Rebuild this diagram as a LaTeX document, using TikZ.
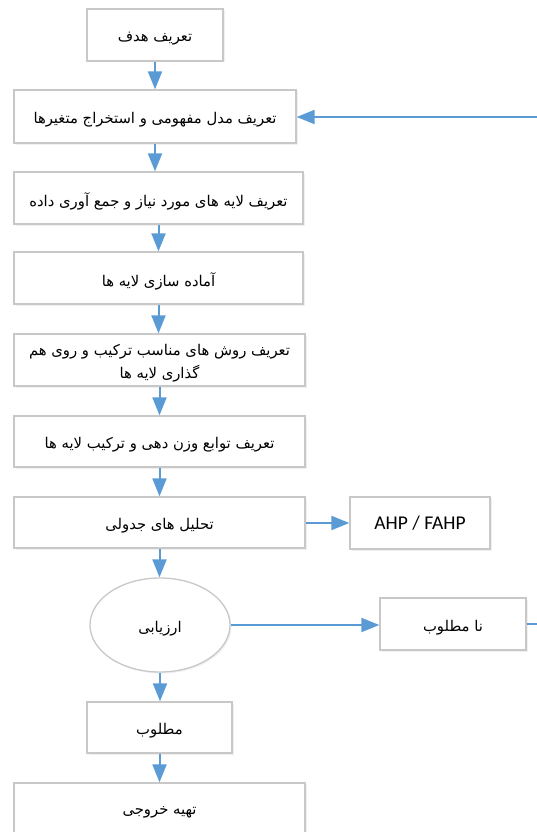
\documentclass[tikz,border=0pt]{standalone}
\usepackage{fontspec}
\setmainfont{DejaVu Sans}
\newfontfamily\arabicfont[Script=Arabic]{DejaVu Sans}
\newfontfamily\latinfont{Carlito}
\TeXXeTstate=1
\newcommand\artx[1]{\raisebox{-3.5pt}[\height][\depth]{\beginR #1\endR}}
\usetikzlibrary{arrows.meta,shapes.geometric,shadows}
\definecolor{arrblue}{HTML}{5B9BD5}
\definecolor{boxgray}{HTML}{C8C8C8}
\tikzset{
  fbox/.style={draw=boxgray, line width=1.3pt, fill=white, rectangle, inner sep=2pt, align=center,
    font=\arabicfont\fontsize{14.8}{23}\selectfont,
    drop shadow={opacity=0.12, shadow xshift=1.5pt, shadow yshift=-1.5pt}},
  fell/.style={draw=boxgray, line width=1.3pt, fill=white, ellipse, inner sep=0pt, align=center,
    font=\arabicfont\fontsize{14.8}{23}\selectfont,
    drop shadow={opacity=0.12, shadow xshift=1.5pt, shadow yshift=-1.5pt}},
  arr/.style={draw=arrblue, line width=2pt, -{Triangle[length=18pt,width=14pt]}},
  ln/.style={draw=arrblue, line width=2pt}
}
\begin{document}
\begin{tikzpicture}[x=1pt,y=-1pt]
\useasboundingbox (0,0) rectangle (537,832);
\clip (0,0) rectangle (537,832);
\node[fbox, minimum width=136pt, minimum height=52pt] (b1) at (155,35) {\artx{تعریف هدف}};
\node[fbox, minimum width=282pt, minimum height=53pt] (b2) at (155,116.5) {\artx{تعریف مدل مفهومی و استخراج متغیرها}};
\node[fbox, minimum width=289pt, minimum height=52pt] (b3) at (158.5,198) {\artx{تعریف لایه های مورد نیاز و جمع آوری داده}};
\node[fbox, minimum width=289pt, minimum height=52pt] (b4) at (158.5,278) {\artx{آماده سازی لایه ها}};
\node[fbox, minimum width=291pt, minimum height=52pt] (b5) at (159.5,360) {\artx{تعریف روش های مناسب ترکیب و روی هم}\\\artx{گذاری لایه ها}};
\node[fbox, minimum width=291pt, minimum height=51pt] (b6) at (159.5,441.5) {\artx{تعریف توابع وزن دهی و ترکیب لایه ها}};
\node[fbox, minimum width=291pt, minimum height=51pt] (b7) at (159.5,522.5) {\artx{تحلیل های جدولی}};
\node[fbox, minimum width=140pt, minimum height=52pt, font=\latinfont\fontsize{19.5}{22}\selectfont] (ahp) at (420,523) {AHP / FAHP};
\node[fell, minimum width=140pt, minimum height=94pt] (ev) at (160,625) {\artx{ارزیابی}};
\node[fbox, minimum width=146pt, minimum height=52pt] (bad) at (453,624) {\artx{نا مطلوب}};
\node[fbox, minimum width=145pt, minimum height=51pt] (good) at (159.5,727.5) {\artx{مطلوب}};
\node[fbox, minimum width=291pt, minimum height=52pt] (out) at (159.5,809) {\artx{تهیه خروجی}};
\coordinate (rin) at (537,117);
\coordinate (rout) at (537,624);
\draw[arr] (b1) -- (b1 |- b2.north);
\draw[arr] (b2) -- (b2 |- b3.north);
\draw[arr] (b3) -- (b3 |- b4.north);
\draw[arr] (b4) -- (b4 |- b5.north);
\draw[arr] (b5) -- (b5 |- b6.north);
\draw[arr] (b6) -- (b6 |- b7.north);
\draw[arr] (b7) -- (b7 |- ev.north);
\draw[arr] (ev) -- (ev |- good.north);
\draw[arr] (good) -- (good |- out.north);
\draw[arr] (b7.east |- ahp) -- (ahp.west);
\draw[arr] (ev.east) -- (ev.east -| bad.west);
\draw[ln] (bad.east) -- (rout);
\draw[arr] (rin) -- (rin -| b2.east);
\end{tikzpicture}
\end{document}
